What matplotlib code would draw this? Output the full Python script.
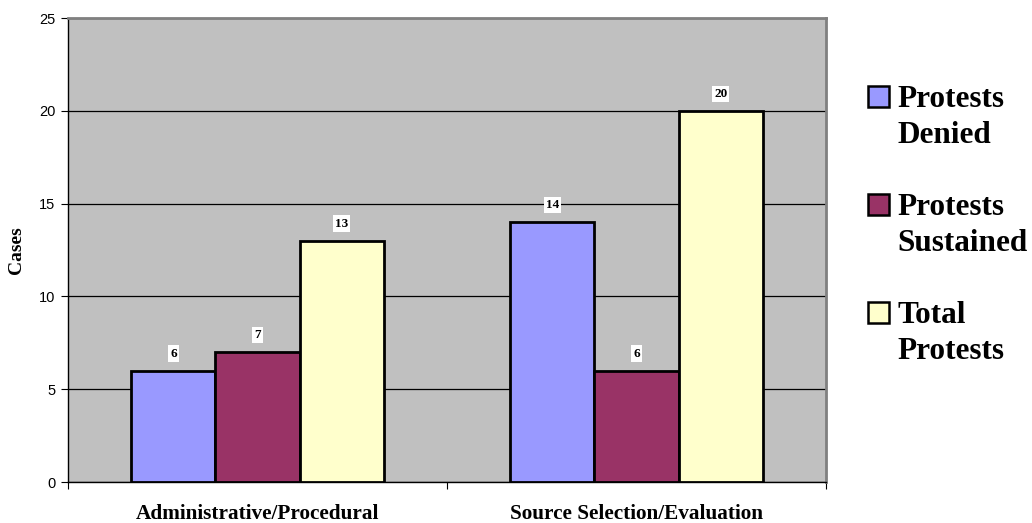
import numpy as np
import matplotlib
matplotlib.use('Agg')
import matplotlib.pyplot as plt
from matplotlib.patches import Rectangle

# protest outcomes by category
categories = ["Administrative/Procedural", "Source Selection/Evaluation"]
series_names = ["Protests\nDenied", "Protests\nSustained", "Total\nProtests"]
denied = [6, 14]
sustained = [7, 6]
total = [13, 20]
yticks = [0, 5, 10, 15, 20, 25]

colors = ["#9999FF", "#993366", "#FFFFCC"]
serif = ["Liberation Serif", "DejaVu Serif"]
W, H = 1032, 523

fig = plt.figure(figsize=(W/100, H/100), dpi=100)
ax = fig.add_axes([68/W, 41/H, 758/W, 464/H])
ax.set_facecolor("#C0C0C0")

x = np.arange(len(categories))
w = 0.222
for i, vals in enumerate([denied, sustained, total]):
    xs = x + (i - 1) * w
    ax.bar(xs, vals, w, color=colors[i], edgecolor="black", linewidth=2, zorder=3)
    for xi, v in zip(xs, vals):
        ax.annotate(str(v), (xi, v), xytext=(0, 8), textcoords="offset points",
                    ha="center", va="bottom", fontsize=9.5, fontweight="bold",
                    family=serif, zorder=4,
                    bbox=dict(facecolor="white", edgecolor="none", pad=1.5))

ax.set_xlim(-0.5, 1.5)
ax.set_ylim(0, 25)
ax.set_yticks(yticks)
ax.set_yticklabels([str(t) for t in yticks], family=["Liberation Sans", "DejaVu Sans"], fontsize=10.5)
ax.yaxis.grid(True, color="black", linewidth=0.9, zorder=0)
ax.set_axisbelow(True)

# category ticks on group boundaries, labels centred below each group
ax.set_xticks([-0.5, 0.5, 1.5])
ax.set_xticklabels([])
ax.set_xticks(x, minor=True)
ax.set_xticklabels(categories, minor=True, fontsize=15.3, fontweight="bold", family=serif)
ax.tick_params(axis="x", which="minor", length=0, pad=16)
ax.tick_params(axis="x", which="major", length=5, color="black")
ax.tick_params(axis="y", length=5, pad=4)

for side in ["top", "right"]:
    ax.spines[side].set_color("#808080")
    ax.spines[side].set_linewidth(2)
for side in ["left", "bottom"]:
    ax.spines[side].set_color("black")
    ax.spines[side].set_linewidth(1)

ax.set_ylabel("Cases", fontsize=14, fontweight="bold", family=serif, labelpad=10)

# legend: square swatch next to the first line of each two-line label
for i, (name, c) in enumerate(zip(series_names, colors)):
    base = 107 + i * 108
    fig.patches.append(Rectangle((868/W, 1 - base/H), 21/W, 21/H, transform=fig.transFigure,
                                 facecolor=c, edgecolor="black", linewidth=1.8))
    for j, line in enumerate(name.split("\n")):
        fig.text(897/W, 1 - (base + 36 * j)/H, line, ha="left", va="baseline",
                 fontsize=22.5, fontweight="bold", family=serif)

fig.savefig("out.png", dpi=100)
